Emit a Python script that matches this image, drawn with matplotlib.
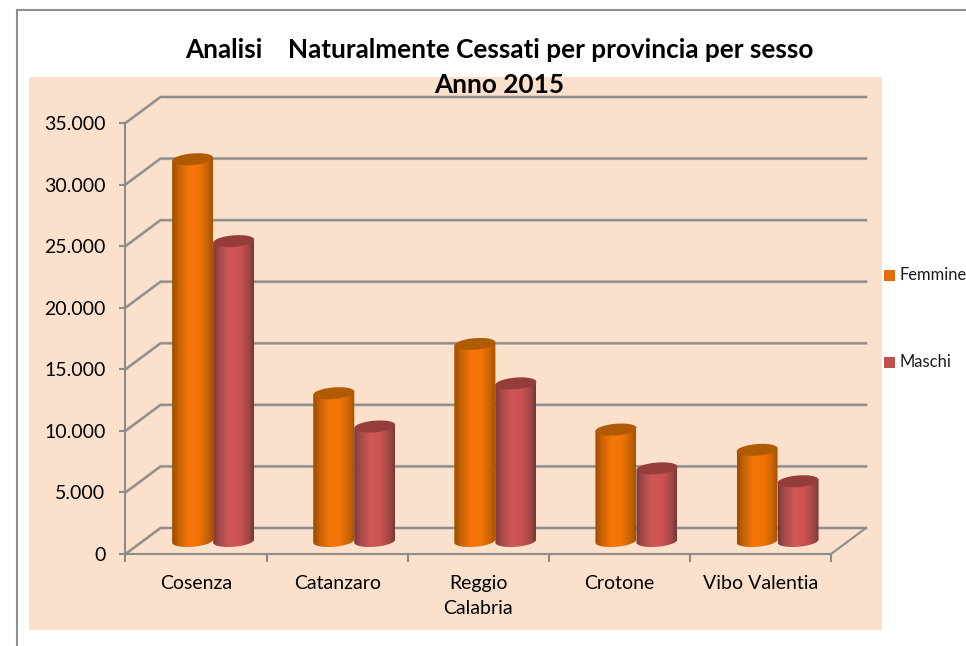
import numpy as np
import matplotlib
matplotlib.use('Agg')
import matplotlib.pyplot as plt
from matplotlib.patches import Polygon, Rectangle

plt.rcParams['font.family'] = ['Lato', 'DejaVu Sans']

province = ['Cosenza', 'Catanzaro', 'Reggio\nCalabria', 'Crotone', 'Vibo Valentia']
femmine = [31000, 12000, 16000, 9050, 7400]
maschi = [24350, 9300, 12800, 5900, 4850]
yticks = [0, 5000, 10000, 15000, 20000, 25000, 30000, 35000]
ytick_labels = ['0', '5.000', '10.000', '15.000', '20.000', '25.000', '30.000', '35.000']

W, H = 966, 646
GRID = '#8c8c8c'

fig = plt.figure(figsize=(W / 100, H / 100), dpi=100)

# sfondo in coordinate pixel
bg = fig.add_axes([0, 0, 1, 1])
bg.set_xlim(0, W)
bg.set_ylim(H, 0)
bg.axis('off')
bg.plot([16.5, 16.5, W], [H, 10, 10], color='#8f8f8f', lw=1.5, solid_joinstyle='miter')
bg.add_patch(Rectangle((29, 77), 853, 553, fc='#fbe1cb', ec='none'))
bg.text(499, 50, 'Analisi    Naturalmente Cessati per provincia per sesso', ha='center', va='center',
        fontsize=18.8, fontweight='bold', color='black')
bg.text(499, 85, 'Anno 2015', ha='center', va='center', fontsize=18.8, fontweight='bold', color='black')

# legenda
bg.add_patch(Rectangle((884, 270), 11, 11, fc='#e46c0a', ec='none'))
bg.add_patch(Rectangle((884, 357), 11, 11, fc='#c0504d', ec='none'))
bg.text(899.5, 275.5, 'Femmine', va='center', fontsize=11.9, color='#1a1a1a')
bg.text(899.5, 362, 'Maschi', va='center', fontsize=11.9, color='#1a1a1a')

# assi
x0, x1, y0, y1 = 125.5, 831, 554, 123
ax = fig.add_axes([x0 / W, 1 - y0 / H, (x1 - x0) / W, (y0 - y1) / H])
ax.patch.set_alpha(0)
xmax = len(province)
ymax = yticks[-1]
ux = xmax / (x1 - x0)   # unita per pixel
uy = ymax / (y0 - y1)
dx = 35 * ux            # profondita
dy = 26 * uy

# griglia 3d
for v in yticks:
    ax.plot([0, dx, xmax + dx], [v, v + dy, v + dy], color='#b5aaa0', lw=2.4, alpha=0.5,
            clip_on=False, zorder=1, solid_joinstyle='miter')
    ax.plot([0, dx, xmax + dx], [v, v + dy, v + dy], color=GRID, lw=1.5,
            clip_on=False, zorder=1.1, solid_joinstyle='miter')
ax.plot([xmax, xmax + dx], [0, dy], color=GRID, lw=1.5, clip_on=False, zorder=1.1)


def cylinder(xc, val, half_w, shades, top_col, z):
    # centro del cilindro, base a meta profondita
    cx = xc + dx / 2
    base = dy / 2
    rh = 5.8 * uy
    sk = 1.6 * uy   # leggera inclinazione delle ellissi
    t = np.linspace(0, np.pi, 60)
    body = np.concatenate([
        np.column_stack([cx - half_w * np.cos(t), base - rh * np.sin(t) - sk * np.cos(t)]),
        np.column_stack([[cx + half_w, cx - half_w], [val + base + sk, val + base - sk]]),
    ])
    patch = Polygon(body, closed=True, fc='none', ec='none', transform=ax.transData)
    ax.add_patch(patch)
    pos = np.linspace(0, 1, 80)
    stops = [0, 0.15, 0.4, 0.65, 0.88, 1]
    rgb = np.array([matplotlib.colors.to_rgb(c) for c in shades])
    grad = np.column_stack([np.interp(pos, stops, rgb[:, i]) for i in range(3)])[None, :, :]
    im = ax.imshow(grad, extent=[cx - half_w, cx + half_w, 0, val + base + 5 * uy], aspect='auto',
                   zorder=z, interpolation='bilinear')
    im.set_clip_path(patch)
    # coperchio
    tt = np.linspace(0, 2 * np.pi, 120)
    top = np.column_stack([cx + half_w * np.cos(tt), val + base + rh * np.sin(tt) + sk * np.cos(tt)])
    ax.add_patch(Polygon(top, closed=True, fc=top_col, ec='none', zorder=z + 0.01))


w = 20.5 * ux
orange = ['#9a4c00', '#c46204', '#f57608', '#f27407', '#c66204', '#a85200']
red = ['#7c3a38', '#a54a4a', '#d05656', '#cb5352', '#a04845', '#7a3735']
for i in range(xmax):
    cylinder(i + 0.5 - w - 0.4 * ux, femmine[i], w, orange, '#b05a02', 3 + i)
    cylinder(i + 0.5 + w - 0.4 * ux, maschi[i], w, red, '#953d3b', 3.5 + i)

ax.set_xlim(0, xmax)
ax.set_ylim(0, ymax)
for s in ['top', 'right']:
    ax.spines[s].set_visible(False)
for s in ['left', 'bottom']:
    ax.spines[s].set_color(GRID)
    ax.spines[s].set_linewidth(1.5)
    ax.spines[s].set_zorder(2)
ax.set_yticks(yticks, ytick_labels)
ax.set_xticks(range(xmax + 1), [''] * (xmax + 1))
ax.set_xticks(np.arange(xmax) + 0.5, province, minor=True, linespacing=1.6)
ax.tick_params(axis='x', which='major', length=5.5, width=1.5, color=GRID)
ax.tick_params(axis='x', which='minor', length=0, labelsize=14, pad=15)
ax.tick_params(axis='y', length=4.5, width=1.5, color=GRID, labelsize=14, pad=10)

fig.savefig('out.png', dpi=100)
